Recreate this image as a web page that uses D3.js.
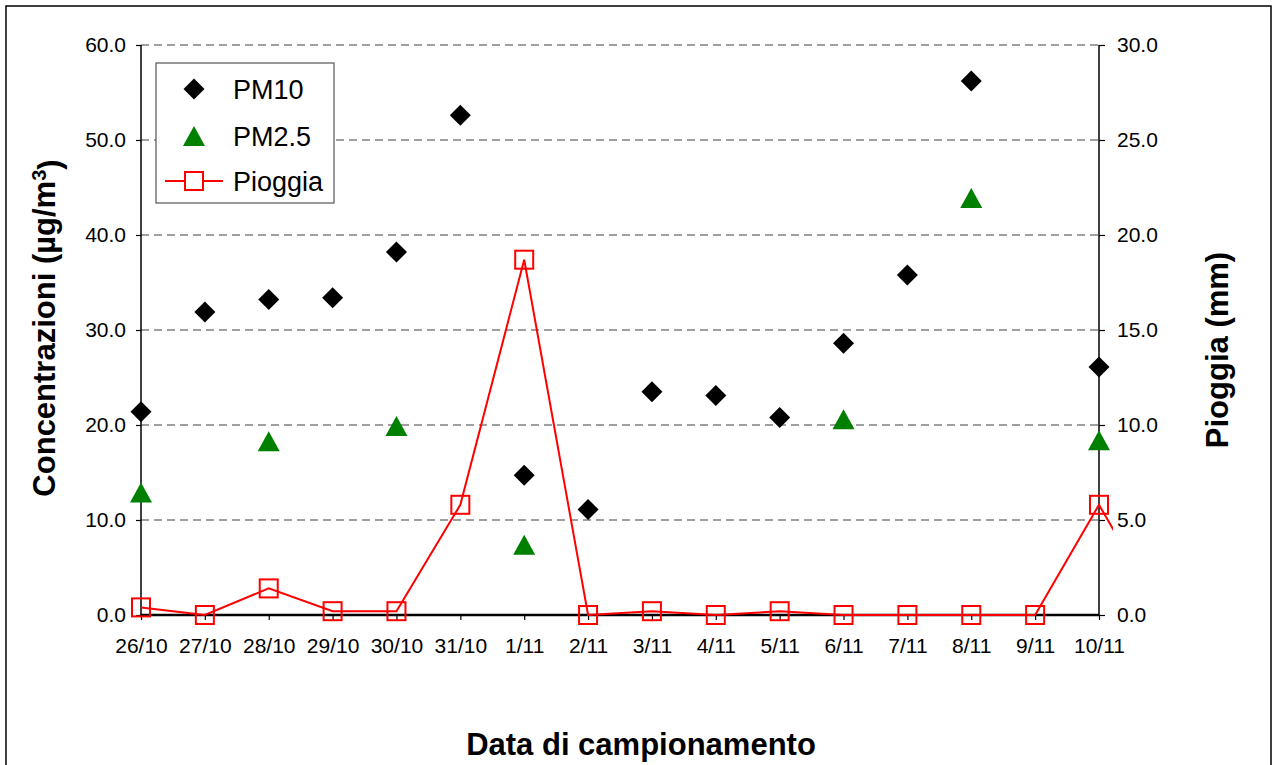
<!DOCTYPE html>
<html>
<head>
<meta charset="utf-8">
<script src="https://cdn.jsdelivr.net/npm/d3@7"></script>
<style>
  body { margin: 0; background: #fff; }
  svg { font-family: "Liberation Sans", Arial, sans-serif; }
</style>
</head>
<body>
<div id="chart"></div>
<script>
// dati
const dates = ["26/10", "27/10", "28/10", "29/10", "30/10", "31/10", "1/11", "2/11",
               "3/11", "4/11", "5/11", "6/11", "7/11", "8/11", "9/11", "10/11"];
const pm10 = [21.4, 31.9, 33.2, 33.4, 38.2, 52.6, 14.7, 11.1, 23.5, 23.1, 20.8, 28.6, 35.8, 56.2, null, 26.1];
const pm25 = [12.9, null, 18.3, null, 19.9, null, 7.4, null, null, null, null, 20.6, null, 43.9, null, 18.4];
const pioggia = [0.4, 0.0, 1.4, 0.2, 0.2, 5.8, 18.7, 0.0, 0.2, 0.0, 0.2, 0.0, 0.0, 0.0, 0.0, 5.8];
const pioggiaNext = 0.0; // punto successivo, visibile solo come inizio di segmento
const leftTicks = [0, 10, 20, 30, 40, 50, 60];
const rightTicks = [0, 5, 10, 15, 20, 25, 30];

const width = 1273, height = 765;
const margin = { top: 45, right: 174, bottom: 150, left: 141 };
const plotW = width - margin.left - margin.right;
const plotH = height - margin.top - margin.bottom;

const svg = d3.select("#chart").append("svg")
    .attr("width", width)
    .attr("height", height);

// cornice esterna
svg.append("rect")
    .attr("x", 6).attr("y", 6)
    .attr("width", 1265).attr("height", 770)
    .attr("fill", "none")
    .attr("stroke", "#000")
    .attr("stroke-width", 1.5);

const x = d3.scaleLinear().domain([0, dates.length - 1]).range([0, plotW]);
const yL = d3.scaleLinear().domain([0, 60]).range([plotH, 0]);
const yR = d3.scaleLinear().domain([0, 30]).range([plotH, 0]);

const g = svg.append("g")
    .attr("transform", `translate(${margin.left},${margin.top})`);

// griglia tratteggiata
g.selectAll(".grid")
    .data(leftTicks.filter(d => d > 0))
    .enter().append("line")
    .attr("x1", 0).attr("x2", plotW)
    .attr("y1", d => yL(d)).attr("y2", d => yL(d))
    .attr("stroke", "#808080")
    .attr("stroke-width", 1.5)
    .attr("stroke-dasharray", "8,5");

const fmt = d3.format(".1f");

const axL = g.append("g")
    .call(d3.axisLeft(yL).tickValues(leftTicks).tickFormat(fmt).tickSize(5).tickPadding(10));
const axR = g.append("g")
    .attr("transform", `translate(${plotW},0)`)
    .call(d3.axisRight(yR).tickValues(rightTicks).tickFormat(fmt).tickSize(6).tickPadding(12));
const axB = g.append("g")
    .attr("transform", `translate(0,${plotH})`)
    .call(d3.axisBottom(x).tickValues(d3.range(dates.length)).tickFormat(i => dates[i]).tickSize(5).tickPadding(18));

[axL, axR, axB].forEach(a => {
    a.selectAll("text").style("font-size", "21px").attr("fill", "#000");
    a.selectAll("line").attr("stroke", "#000").attr("stroke-width", 1.2);
    a.select(".domain").attr("stroke", "#000").attr("stroke-width", 1.5);
});
axB.select(".domain").attr("stroke-width", 2.5).attr("d", `M0,0H${plotW}`);
axL.select(".domain").attr("d", `M0,${plotH}V0`);
axR.select(".domain").attr("d", `M0,${plotH}V0`);

// linea pioggia (tagliata poco dopo l'asse destro)
svg.append("clipPath").attr("id", "clip")
    .append("rect")
    .attr("x", -10).attr("y", -10)
    .attr("width", plotW + 24).attr("height", plotH + 20);

const rainAll = pioggia.concat([pioggiaNext]);
const line = d3.line()
    .x((d, i) => x(i))
    .y(d => yR(d));

g.append("path")
    .datum(rainAll)
    .attr("clip-path", "url(#clip)")
    .attr("d", line)
    .attr("fill", "none")
    .attr("stroke", "#ff0000")
    .attr("stroke-width", 2);

// marker pioggia
g.selectAll(".rain")
    .data(pioggia)
    .enter().append("rect")
    .attr("x", (d, i) => x(i) - 9)
    .attr("y", d => yR(d) - 9)
    .attr("width", 18).attr("height", 18)
    .attr("fill", "none")
    .attr("stroke", "#ff0000")
    .attr("stroke-width", 2);

// PM2.5 triangoli
const tri = "M0,-10L11,10L-11,10Z";
g.selectAll(".pm25")
    .data(pm25.map((v, i) => [i, v]).filter(d => d[1] !== null))
    .enter().append("path")
    .attr("d", tri)
    .attr("transform", d => `translate(${x(d[0])},${yL(d[1])})`)
    .attr("fill", "#008000");

// PM10 rombi
const diamond = "M0,-10.5L10.5,0L0,10.5L-10.5,0Z";
g.selectAll(".pm10")
    .data(pm10.map((v, i) => [i, v]).filter(d => d[1] !== null))
    .enter().append("path")
    .attr("d", diamond)
    .attr("transform", d => `translate(${x(d[0])},${yL(d[1])})`)
    .attr("fill", "#000");

// legenda
const leg = svg.append("g").attr("transform", "translate(156,63)");
leg.append("rect")
    .attr("width", 178).attr("height", 140)
    .attr("fill", "#fff")
    .attr("stroke", "#555")
    .attr("stroke-width", 1.2);
const legItems = ["PM10", "PM2.5", "Pioggia"];
const rowY = [26, 73, 118];
leg.append("path").attr("d", diamond).attr("transform", `translate(38,${rowY[0]})`).attr("fill", "#000");
leg.append("path").attr("d", tri).attr("transform", `translate(38,${rowY[1]})`).attr("fill", "#008000");
leg.append("line")
    .attr("x1", 9).attr("x2", 67).attr("y1", rowY[2]).attr("y2", rowY[2])
    .attr("stroke", "#ff0000").attr("stroke-width", 2);
leg.append("rect")
    .attr("x", 29).attr("y", rowY[2] - 9).attr("width", 18).attr("height", 18)
    .attr("fill", "#fff").attr("stroke", "#ff0000").attr("stroke-width", 2);
leg.selectAll(".lt")
    .data(legItems)
    .enter().append("text")
    .attr("x", 77)
    .attr("y", (d, i) => rowY[i] + 10)
    .style("font-size", "27px")
    .text(d => d);

// titoli assi
svg.append("text")
    .attr("x", 641).attr("y", 755)
    .attr("text-anchor", "middle")
    .style("font-size", "31px").style("font-weight", "bold")
    .text("Data di campionamento");

const tL = svg.append("text")
    .attr("transform", "translate(55,328) rotate(-90)")
    .attr("text-anchor", "middle")
    .style("font-size", "31px").style("font-weight", "bold");
tL.append("tspan").text("Concentrazioni (\u00b5g/m");
tL.append("tspan").attr("dy", "-0.45em").style("font-size", "20px").text("3");
tL.append("tspan").attr("dy", "0.45em").text(")");

svg.append("text")
    .attr("transform", "translate(1228,350) rotate(-90)")
    .attr("text-anchor", "middle")
    .style("font-size", "31px").style("font-weight", "bold")
    .text("Pioggia (mm)");
</script>
</body>
</html>
